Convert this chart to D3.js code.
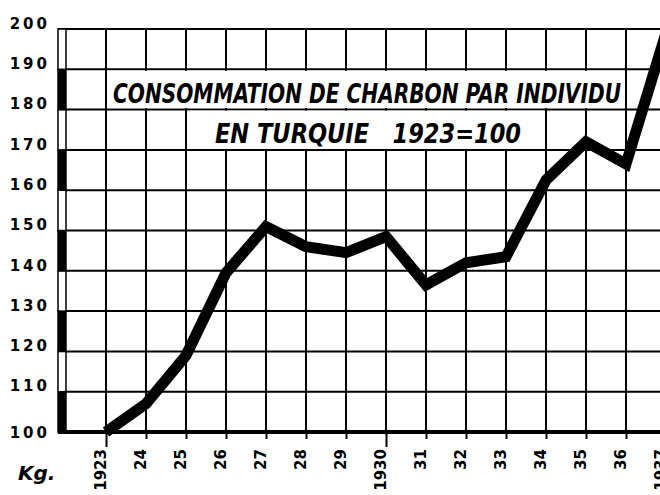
<!DOCTYPE html>
<html>
<head>
<meta charset="utf-8">
<script src="https://cdn.jsdelivr.net/npm/d3@7"></script>
<style>
  body { margin: 0; background: #fff; }
  svg { display: block; }
</style>
</head>
<body>
<script>
// Coal consumption per person, Turkey, 1923 = 100
const years = [1923, 1924, 1925, 1926, 1927, 1928, 1929, 1930, 1931, 1932, 1933, 1934, 1935, 1936, 1937];
const values = [100, 107, 119, 139.5, 151, 146, 144.5, 148.5, 136.5, 142, 143.5, 162.5, 172, 166.5, 199];
const yearLabels = ["1923", "24", "25", "26", "27", "28", "29", "1930", "31", "32", "33", "34", "35", "36", "1937"];
const yTicks = [100, 110, 120, 130, 140, 150, 160, 170, 180, 190, 200];
const titleLines = ["CONSOMMATION DE CHARBON PAR INDIVIDU", "EN TURQUIE   1923=100"];

width = 660;
height = 495;

svg = d3.select("body")
        .append("svg")
        .attr("width", width)
        .attr("height", height);

// scales
x = d3.scaleLinear().domain([1922, 1937]).range([66, 666]);
y = d3.scaleLinear().domain([100, 200]).range([432, 29]);

// horizontal grid
svg.append("g")
   .selectAll("line")
   .data(yTicks)
   .join("line")
   .attr("x1", 58)
   .attr("x2", width)
   .attr("y1", d => y(d))
   .attr("y2", d => y(d))
   .attr("stroke", "#000")
   .attr("stroke-width", 2);

// vertical grid
svg.append("g")
   .selectAll("line")
   .data(years)
   .join("line")
   .attr("x1", d => x(d))
   .attr("x2", d => x(d))
   .attr("y1", y(200))
   .attr("y2", y(100))
   .attr("stroke", "#000")
   .attr("stroke-width", 2);

// left scale bar, alternating black / white
svg.append("g")
   .selectAll("rect")
   .data(yTicks.slice(0, -1))
   .join("rect")
   .attr("x", 58)
   .attr("y", d => y(d + 10))
   .attr("width", 8)
   .attr("height", d => y(d) - y(d + 10))
   .attr("fill", d => (d % 20 === 0) ? "#000" : "#fff")
   .attr("stroke", "#000")
   .attr("stroke-width", 1.5);

// title boxes
svg.append("rect")
   .attr("x", x(1923) + 1.5)
   .attr("y", y(190) + 1.5)
   .attr("width", x(1936) - x(1923) - 3)
   .attr("height", y(180) - y(190) - 3)
   .attr("fill", "#fff");
svg.append("rect")
   .attr("x", x(1925) + 1.5)
   .attr("y", y(180) + 1)
   .attr("width", x(1934) - x(1925) - 3)
   .attr("height", y(170) - y(180) - 2)
   .attr("fill", "#fff");

svg.append("text")
   .attr("x", 113)
   .attr("y", 103)
   .attr("textLength", 508)
   .attr("lengthAdjust", "spacingAndGlyphs")
   .style("font-family", "'DejaVu Sans Condensed', 'DejaVu Sans', sans-serif")
   .style("font-size", "26px")
   .style("font-weight", "bold")
   .style("font-style", "italic")
   .text(titleLines[0]);

svg.append("text")
   .attr("x", 215)
   .attr("y", 143)
   .attr("textLength", 306)
   .attr("lengthAdjust", "spacingAndGlyphs")
   .style("font-family", "'DejaVu Sans Condensed', 'DejaVu Sans', sans-serif")
   .style("font-size", "26px")
   .style("font-weight", "bold")
   .style("font-style", "italic")
   .style("white-space", "pre")
   .text(titleLines[1]);

// data line
line = d3.line()
         .x((d, i) => x(years[i]))
         .y(d => y(d));

svg.append("path")
   .datum(values)
   .attr("d", line)
   .attr("fill", "none")
   .attr("stroke", "#000")
   .attr("stroke-width", 11)
   .attr("stroke-linejoin", "miter");

// x-axis
xAxis = svg.append("g")
   .attr("transform", `translate(0,${y(100)})`)
   .call(d3.axisBottom(x)
           .tickValues(years)
           .tickFormat((d, i) => yearLabels[i])
           .tickSize(7)
           .tickPadding(0));
xAxis.select(".domain").remove();
xAxis.selectAll(".tick line")
     .attr("stroke-width", 2)
     .attr("y2", d => (d === 1923 || d === 1930) ? 15 : 7);
xAxis.selectAll(".tick text")
     .attr("transform", "rotate(-90)")
     .attr("x", -17)
     .attr("y", -1)
     .attr("dy", 0)
     .style("text-anchor", "end")
     .style("font-family", "'DejaVu Sans', sans-serif")
     .style("font-size", "15px")
     .style("font-weight", "bold");

svg.append("line")
   .attr("x1", 58)
   .attr("x2", width)
   .attr("y1", y(100))
   .attr("y2", y(100))
   .attr("stroke", "#000")
   .attr("stroke-width", 4);

// y-axis labels
yAxis = svg.append("g")
   .attr("transform", "translate(50,0)")
   .call(d3.axisLeft(y)
           .tickValues(yTicks)
           .tickSize(0)
           .tickPadding(0));
yAxis.select(".domain").remove();
yAxis.selectAll(".tick text")
     .attr("dy", d => d === 100 ? "0.35em" : "-0.05em")
     .style("font-family", "'DejaVu Sans', sans-serif")
     .style("font-size", "15px")
     .style("font-weight", "bold")
     .style("letter-spacing", "3px");

// unit label
svg.append("text")
   .attr("x", 18)
   .attr("y", 480)
   .style("font-family", "'DejaVu Sans', sans-serif")
   .style("font-size", "20px")
   .style("font-weight", "bold")
   .style("font-style", "italic")
   .text("Kg.");
</script>
</body>
</html>
